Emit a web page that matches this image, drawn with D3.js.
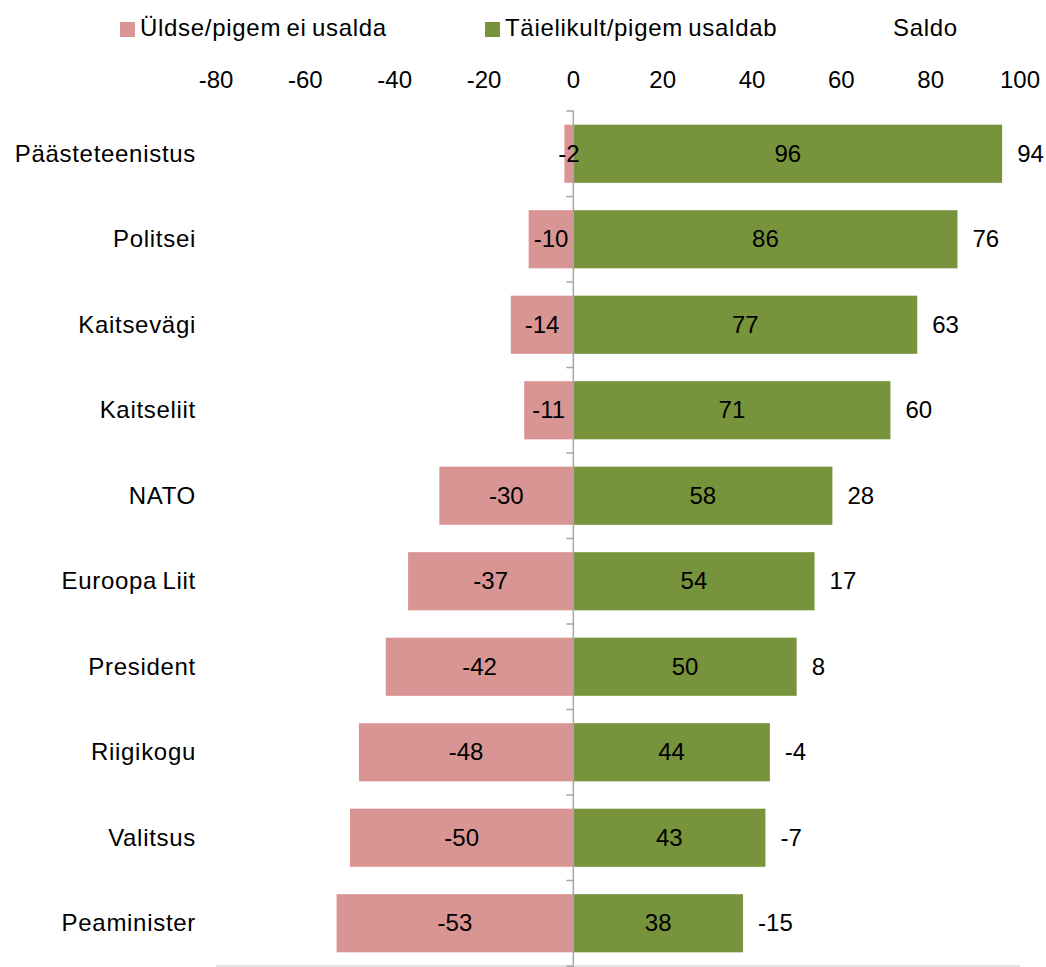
<!DOCTYPE html>
<html><head><meta charset="utf-8">
<script src="https://cdn.jsdelivr.net/npm/d3@7"></script>
<style>body{margin:0;background:#fff}text{font-family:"Liberation Sans",Arial,sans-serif;}</style>
</head><body>
<svg id="c" width="1046" height="967"></svg>
<script>
const categories = ["Päästeteenistus","Politsei","Kaitsevägi","Kaitseliit","NATO","Euroopa Liit","President","Riigikogu","Valitsus","Peaminister"];
const distrust = [-2,-10,-14,-11,-30,-37,-42,-48,-50,-53];
const trust = [96,86,77,71,58,54,50,44,43,38];
const saldo = [94,76,63,60,28,17,8,-4,-7,-15];
const xTicks = [-80,-60,-40,-20,0,20,40,60,80,100];
const seriesNames = ["Üldse/pigem ei usalda","Täielikult/pigem usaldab","Saldo"];
const colors = ["#D99594","#77933C"];
const FS = 24;

const svg = d3.select("#c");
const x = d3.scaleLinear().domain([-80,100]).range([216,1020]);
const y = d3.scaleBand().domain(categories).range([111,966]).paddingInner(0.32).paddingOuter(0.16);
const band = d3.scaleBand().domain(categories).range([111,966]);

// bottom line
svg.append("line").attr("x1",x(-80)).attr("x2",x(100)).attr("y1",966).attr("y2",966)
  .attr("stroke","#d9d9d9").attr("stroke-width",1.5);

// bars
const g = svg.append("g");
categories.forEach((c,i)=>{
  g.append("rect").attr("x",x(distrust[i])).attr("width",x(0)-x(distrust[i]))
    .attr("y",y(c)).attr("height",y.bandwidth()).attr("fill",colors[0]);
  g.append("rect").attr("x",x(0)).attr("width",x(trust[i])-x(0))
    .attr("y",y(c)).attr("height",y.bandwidth()).attr("fill",colors[1]);
});

// vertical axis at 0
svg.append("line").attr("x1",x(0)).attr("x2",x(0)).attr("y1",111).attr("y2",967)
  .attr("stroke","#a6a6a6").attr("stroke-width",1.5);
const tickYs = categories.map(c=>band(c)).concat([966]);
tickYs.forEach(t=>{
  svg.append("line").attr("x1",x(0)-7).attr("x2",x(0)).attr("y1",t).attr("y2",t)
    .attr("stroke","#a6a6a6").attr("stroke-width",1.5);
});

function txt(sel){ return sel.attr("font-size",FS).attr("fill","#000").attr("word-spacing",-2); }

// top tick labels
txt(svg.append("g").selectAll("text").data(xTicks).join("text")
  .attr("x",d=>x(d)).attr("y",88).attr("text-anchor","middle")).text(d=>d);

// category labels
txt(svg.append("g").selectAll("text").data(categories).join("text")
  .attr("x",196).attr("y",c=>y(c)+y.bandwidth()/2+8).attr("text-anchor","end")
  .attr("letter-spacing",0.7)).text(c=>c);

// value labels
categories.forEach((c,i)=>{
  const cy = y(c)+y.bandwidth()/2+8;
  txt(svg.append("text").attr("x",(x(distrust[i])+x(0))/2).attr("y",cy).attr("text-anchor","middle")).text(distrust[i]);
  txt(svg.append("text").attr("x",(x(trust[i])+x(0))/2).attr("y",cy).attr("text-anchor","middle")).text(trust[i]);
  txt(svg.append("text").attr("x",x(trust[i])+15).attr("y",cy).attr("text-anchor","start")).text(saldo[i]);
});

// legend
const leg = [{x:120,tx:140,name:seriesNames[0],col:colors[0]},{x:485,tx:505,name:seriesNames[1],col:colors[1]},{x:873,tx:893,name:seriesNames[2],col:null}];
leg.forEach(l=>{
  if(l.col) svg.append("rect").attr("x",l.x).attr("y",22).attr("width",15).attr("height",15).attr("fill",l.col);
  txt(svg.append("text").attr("x",l.tx).attr("y",36).attr("letter-spacing",0.7)).text(l.name);
});
</script>
</body></html>
